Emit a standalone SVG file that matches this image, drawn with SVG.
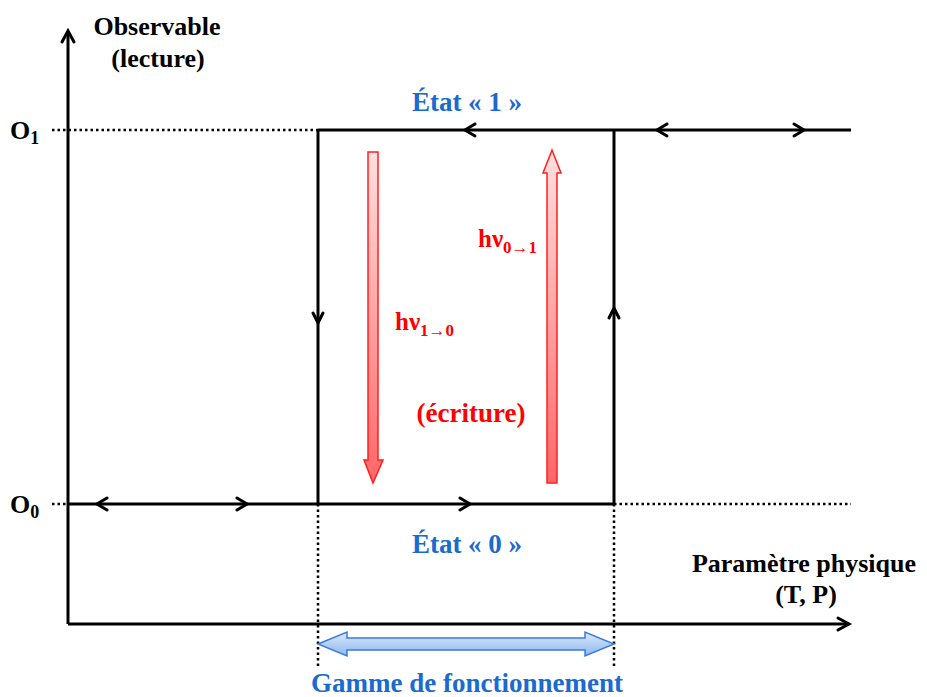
<svg xmlns="http://www.w3.org/2000/svg" width="927" height="697" viewBox="0 0 927 697">
<defs>
<linearGradient id="redg" x1="0" y1="0" x2="0" y2="1">
<stop offset="0" stop-color="#ffe0e0"/>
<stop offset="1" stop-color="#ff6666"/>
</linearGradient>
<linearGradient id="blueg" x1="0" y1="0" x2="0" y2="1">
<stop offset="0" stop-color="#dbe8fa"/>
<stop offset="1" stop-color="#8db8f0"/>
</linearGradient>
<style>
.ln{stroke:#000;stroke-width:3;fill:none}
.dot{stroke:#000;stroke-width:2.5;fill:none;stroke-dasharray:2.5 3}
.chev{stroke:#000;stroke-width:3;fill:none;stroke-linecap:round;stroke-linejoin:miter}
.t{font-family:"Liberation Serif","Times New Roman",serif;font-weight:bold}
.blk{fill:#000;font-size:26px}
.blu{fill:#1b6ad0;font-size:27px}
.red{fill:#ff0000}
</style>
</defs>
<g id="axes">
<line class="ln" x1="68" y1="624" x2="68" y2="31"/>
<polyline class="chev" points="62,42 68,31 74,42"/>
<line class="ln" x1="68" y1="624" x2="849" y2="624"/>
<polyline class="chev" points="838,618 849,624 838,630"/>
</g>
<g id="connectors">
<line class="dot" x1="52" y1="130" x2="318" y2="130"/>
<line class="ln" x1="318" y1="130" x2="851" y2="130"/>
<line class="dot" x1="52" y1="504" x2="68" y2="504"/>
<line class="ln" x1="68" y1="504" x2="614" y2="504"/>
<line class="dot" x1="614" y1="504" x2="851" y2="504"/>
<line class="ln" x1="318" y1="130" x2="318" y2="504"/>
<line class="ln" x1="614" y1="130" x2="614" y2="504"/>
<line class="dot" x1="318" y1="504" x2="318" y2="667"/>
<line class="dot" x1="614" y1="504" x2="614" y2="667"/>
<polyline class="chev" points="475,124 465,130 475,136"/>
<polyline class="chev" points="667,124 657,130 667,136"/>
<polyline class="chev" points="794,124 804,130 794,136"/>
<polyline class="chev" points="107,498 97,504 107,510"/>
<polyline class="chev" points="237,498 247,504 237,510"/>
<polyline class="chev" points="460,498 470,504 460,510"/>
<polyline class="chev" points="313,313 318,323 323,313"/>
<polyline class="chev" points="609,318 614,308 619,318"/>
</g>
<g id="write-arrows">
<path d="M368,152 H378 V460 H383 L373,483 L364,460 H368 Z" fill="url(#redg)" stroke="#ff2020" stroke-width="1.5"/>
<path d="M547,483 H557 V173 H561 L552,150 L543,173 H547 Z" fill="url(#redg)" stroke="#ff2020" stroke-width="1.5"/>
</g>
<g id="range-arrow">
<path d="M318,644 L347,632 V638 H585 V632 L614,644 L585,656 V650 H347 V656 Z" fill="url(#blueg)" stroke="#3a7bdc" stroke-width="1.5"/>
</g>
<g id="labels">
<text class="t blk" x="157" y="35" text-anchor="middle" font-size="27">Observable</text>
<text class="t blk" x="158" y="67" text-anchor="middle" font-size="27">(lecture)</text>
<text class="t blk" x="10" y="139">O<tspan font-size="18" dy="5">1</tspan></text>
<text class="t blk" x="10" y="513">O<tspan font-size="18" dy="5">0</tspan></text>
<text class="t blk" x="916" y="572" text-anchor="end">Paramètre physique</text>
<text class="t blk" x="806" y="603" text-anchor="middle">(T, P)</text>
<text class="t blu" x="467" y="111" text-anchor="middle">État « 1 »</text>
<text class="t blu" x="467" y="553" text-anchor="middle">État « 0 »</text>
<text class="t blu" x="467" y="692" text-anchor="middle">Gamme de fonctionnement</text>
<text class="t red" x="478" y="247" font-size="25">hν<tspan font-size="17" dy="6">0→1</tspan></text>
<text class="t red" x="395" y="330" font-size="25">hν<tspan font-size="17" dy="6">1→0</tspan></text>
<text class="t red" x="471" y="422" font-size="27" text-anchor="middle">(écriture)</text>
</g>
</svg>
